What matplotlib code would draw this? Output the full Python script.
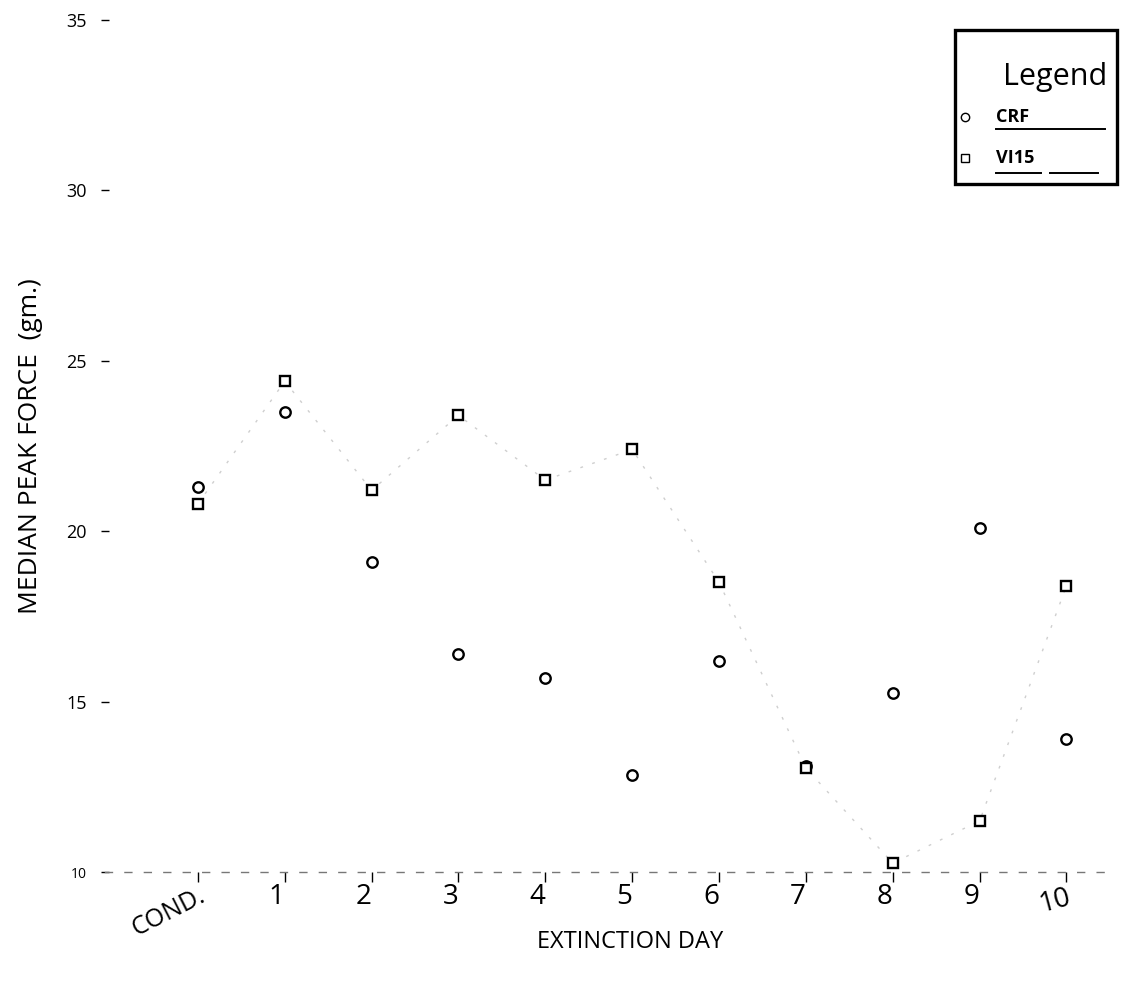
import matplotlib.pyplot as plt
from matplotlib.patches import Rectangle
from matplotlib.lines import Line2D

plt.rcParams['font.family'] = ['Open Sans', 'DejaVu Sans']

# Median peak force per day
days = ['COND.', '1', '2', '3', '4', '5', '6', '7', '8', '9', '10']
crf = [21.3, 23.5, 19.1, 16.4, 15.7, 12.85, 16.2, 13.1, 15.25, 20.1, 13.9]
vi15 = [20.8, 24.4, 21.2, 23.4, 21.5, 22.4, 18.5, 13.05, 10.26, 11.5, 18.4]
yticks = [10, 15, 20, 25, 30, 35]

fig = plt.figure(figsize=(11.25, 9.81), dpi=100)
ax = fig.add_axes([0.0933, 0.1111, 0.8933, 0.8685])

x = list(range(len(days)))

# faint connecting trace, mostly faded on the original
ax.plot(x, vi15, linestyle=(0, (2, 7)), color='#cfcfcf', linewidth=1.0, zorder=1)

ax.plot(x, crf, linestyle='none', marker='o', markersize=7.5,
        markerfacecolor='white', markeredgecolor='black', markeredgewidth=1.7, zorder=3)
ax.plot(x, vi15, linestyle='none', marker='s', markersize=7.5,
        markerfacecolor='white', markeredgecolor='black', markeredgewidth=1.7, zorder=3)

ax.set_xlim(-1.07, 10.5)
ax.set_ylim(10, 35)

ax.set_yticks(yticks)
ax.set_yticklabels([str(v) for v in yticks], fontsize=13)
ax.get_yticklabels()[0].set_fontsize(10)
ax.tick_params(axis='y', direction='inout', length=6, width=1, pad=10)

ax.set_xticks(x)
ax.set_xticklabels(days, fontsize=20, ha='right')
ax.tick_params(axis='x', direction='out', length=7, width=1, pad=1)
for lbl in ax.get_xticklabels():
    lbl.set_rotation_mode('anchor')
ax.get_xticklabels()[0].set_rotation(27)
ax.get_xticklabels()[0].set_fontsize(18)
ax.get_xticklabels()[-1].set_rotation(15)

for side in ['top', 'right', 'left']:
    ax.spines[side].set_visible(False)
ax.spines['bottom'].set_linestyle((0, (5, 9)))
ax.spines['bottom'].set_color('#777777')
ax.spines['bottom'].set_linewidth(1.0)

fig.text(0.027, 0.545, 'MEDIAN PEAK FORCE  (gm.)', rotation=90,
         ha='center', va='center', fontsize=19)
fig.text(0.56, 0.040, 'EXTINCTION DAY', ha='center', va='center', fontsize=17)

# hand-drawn style legend box
fig.patches.append(Rectangle((0.849, 0.812), 0.144, 0.157, transform=fig.transFigure,
                             fill=False, edgecolor='black', linewidth=2.4))
fig.text(0.938, 0.922, 'Legend', ha='center', va='center', fontsize=22)
fig.lines.append(Line2D([0.858], [0.881], transform=fig.transFigure, marker='o',
                        markersize=6, markerfacecolor='white', markeredgecolor='black'))
fig.text(0.885, 0.881, 'CRF', ha='left', va='center', fontsize=13, fontweight='bold')
fig.lines.append(Line2D([0.885, 0.982], [0.868, 0.868], transform=fig.transFigure,
                        color='black', linewidth=1.4))
fig.lines.append(Line2D([0.858], [0.839], transform=fig.transFigure, marker='s',
                        markersize=6, markerfacecolor='white', markeredgecolor='black'))
fig.text(0.885, 0.839, 'VI15', ha='left', va='center', fontsize=13, fontweight='bold')
fig.lines.append(Line2D([0.885, 0.925], [0.824, 0.824], transform=fig.transFigure,
                        color='black', linewidth=1.4))
fig.lines.append(Line2D([0.933, 0.976], [0.824, 0.824], transform=fig.transFigure,
                        color='black', linewidth=1.4))

fig.savefig('out.png', dpi=100, facecolor='white')
